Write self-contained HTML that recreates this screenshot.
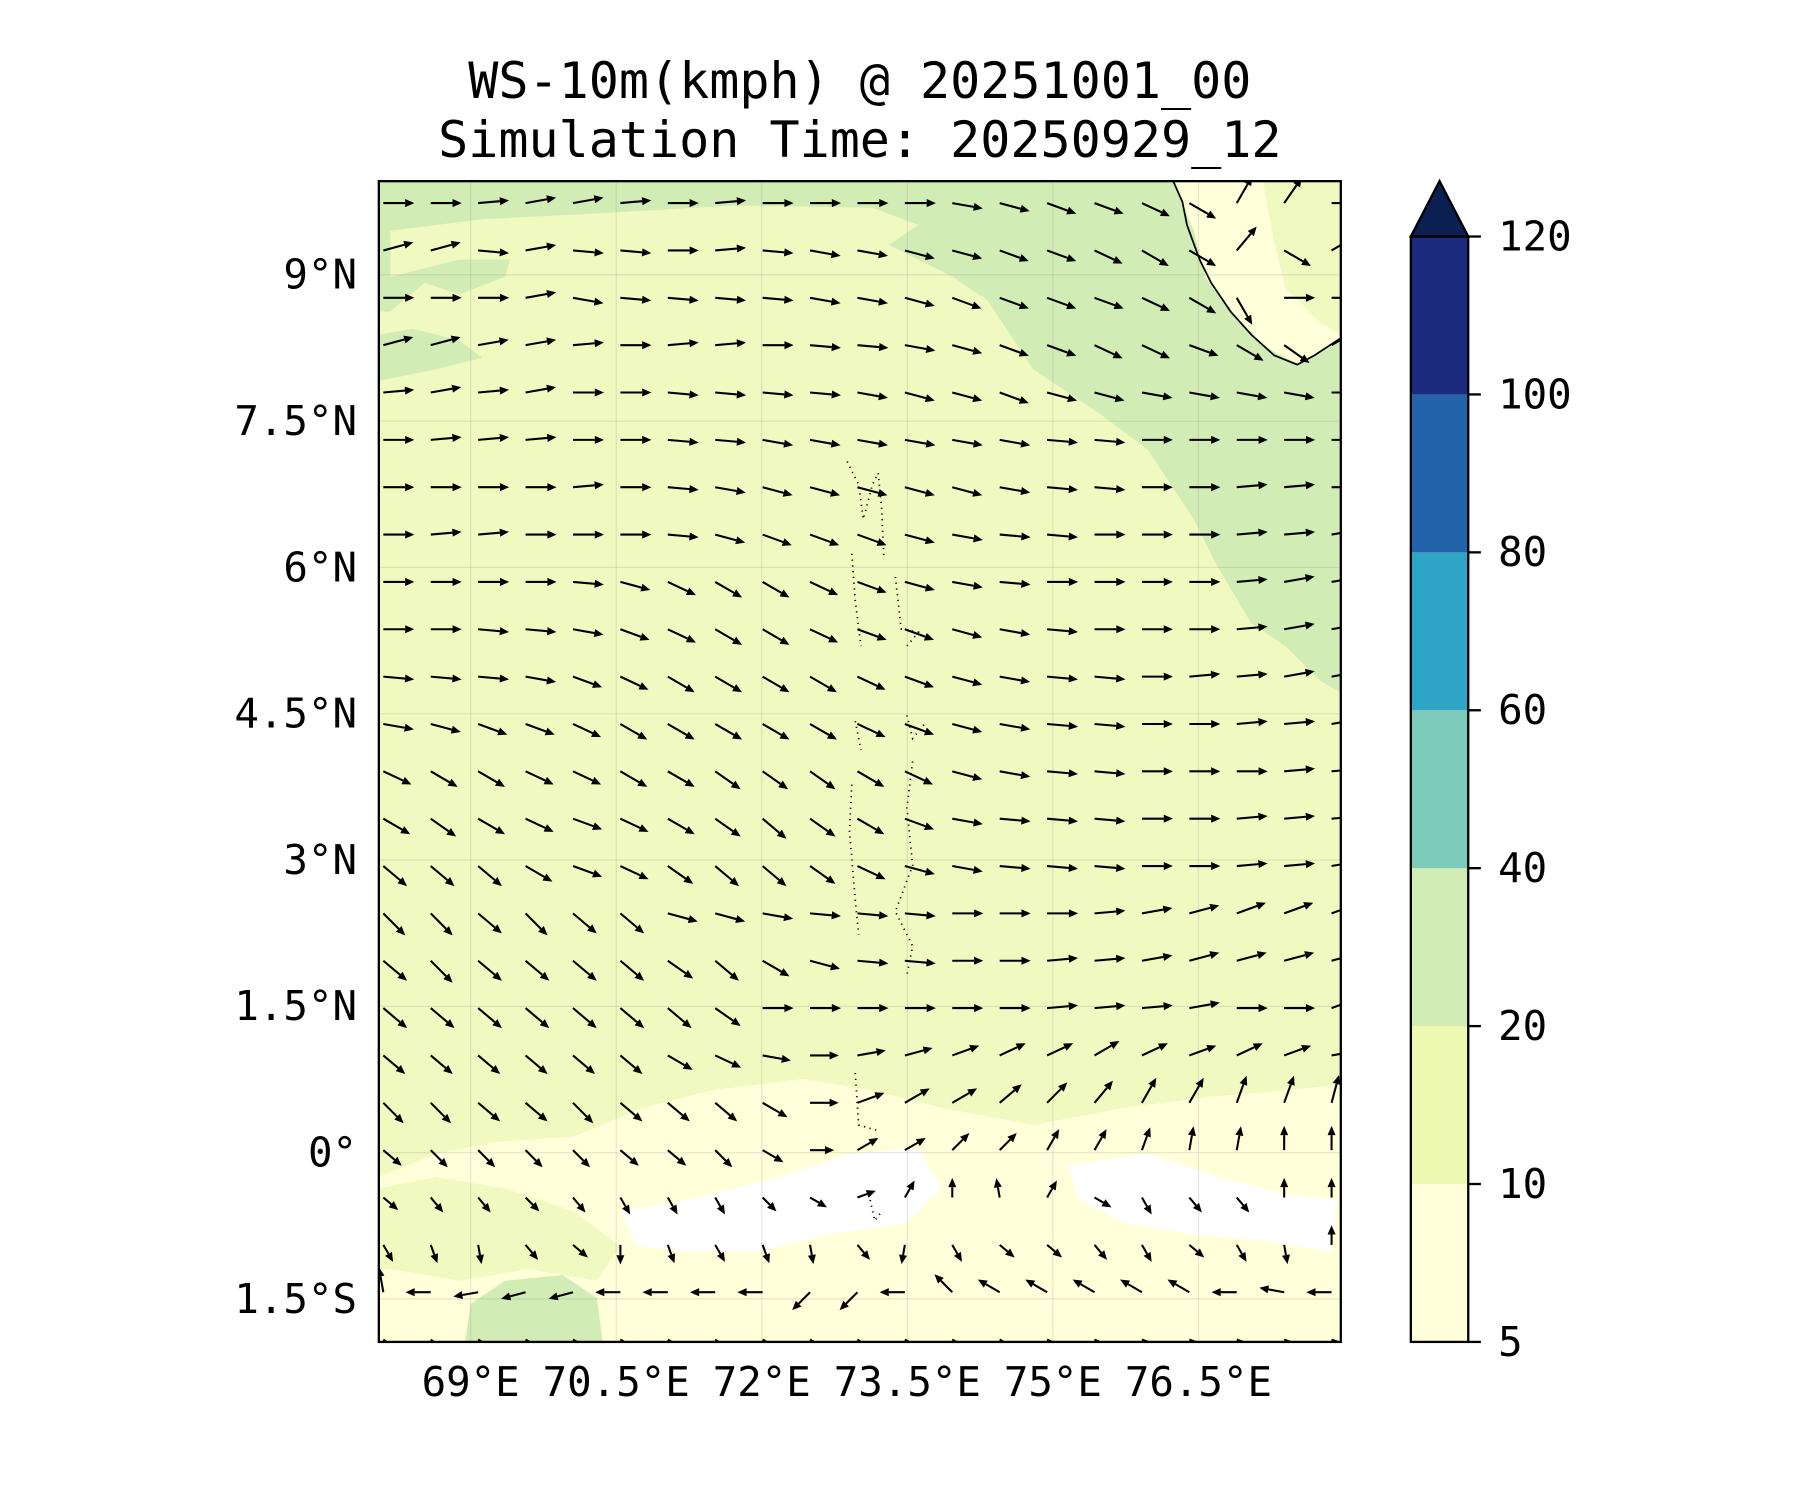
<!DOCTYPE html>
<html><head><meta charset="utf-8"><style>
html,body{margin:0;padding:0;background:#fff;}
svg{display:block;}
text{font-family:"DejaVu Sans Mono","Liberation Mono",monospace;fill:#000;}
</style></head><body>
<svg id="chart" width="1800" height="1500" viewBox="0 0 1568 1300" preserveAspectRatio="none" xmlns="http://www.w3.org/2000/svg">
<defs><clipPath id="clip"><rect x="330" y="157" width="838" height="1006"/></clipPath></defs>
<text x="749" y="85" font-size="43.6" text-anchor="middle">WS-10m(kmph) @ 20251001_00</text>
<text x="749" y="136" font-size="43.6" text-anchor="middle">Simulation Time: 20250929_12</text>
<g clip-path="url(#clip)">
<rect x="330" y="157" width="838" height="1006" fill="#f0f9bf"/>
<path fill="#d1ecb4" d="M330 157 L1168 157 L1168 600 L1150 590 L1120 560 L1090 540 L1060 490 L1040 450 L1020 420 L1000 390 L960 360 L930 340 L900 320 L880 290 L860 260 L830 240 L800 225 L760 205 L700 195 L640 192 L560 195 L500 190 L450 205 L440 240 L400 255 L370 245 L340 270 L330 270 Z"/>
<path fill="#f0f9bf" d="M340 200 L420 190 L520 185 L640 178 L760 180 L800 195 L770 215 L700 205 L620 205 L540 215 L450 225 L400 225 L340 240 Z"/>
<path fill="#d1ecb4" d="M330 290 L360 285 L400 295 L420 310 L380 320 L330 330 Z"/>
<path fill="#ffffd9" d="M330 1020 L380 1000 L430 990 L500 985 L560 960 L620 945 L700 935 L760 945 L820 960 L900 975 L980 960 L1060 950 L1120 945 L1168 940 L1168 1163 L330 1163 Z"/>
<path fill="#f0f9bf" d="M330 1030 L380 1020 L440 1030 L500 1050 L540 1080 L520 1110 L460 1100 L400 1110 L340 1100 L330 1100 Z"/>
<path fill="#ffffff" d="M540 1050 L600 1040 L680 1020 L740 1000 L800 995 L820 1030 L790 1060 L720 1070 L660 1085 L600 1085 L555 1080 Z"/>
<path fill="#ffffff" d="M930 1010 L1000 1000 L1060 1020 L1120 1035 L1165 1040 L1160 1085 L1100 1075 L1040 1070 L980 1060 L940 1040 Z"/>
<path fill="#d1ecb4" d="M405 1163 L410 1130 L440 1110 L490 1105 L520 1125 L525 1163 Z"/>
<path fill="#ffffd9" d="M1022 157 L1040 200 L1050 240 L1075 275 L1100 300 L1130 315 L1150 305 L1168 292 L1168 157 Z"/>
<path fill="#f0f9bf" d="M1100 157 L1168 157 L1168 290 L1150 280 L1120 250 L1110 210 Z"/>
<path fill="none" stroke="#000" stroke-width="1.5" d="M1022 157 L1030 175 L1034 195 L1045 225 L1055 245 L1072 270 L1090 290 L1110 308 L1130 316 L1145 308 L1168 293"/>
<g fill="none" stroke="#000" stroke-width="1.5" stroke-dasharray="1 4">
<path d="M738 400 L748 420 L752 450 L760 420 L765 410 L768 440 L770 485"/>
<path d="M742 480 L745 520 L750 560"/>
<path d="M780 500 L785 545 L800 548 L790 560"/>
<path d="M745 625 L750 650 M790 620 L795 640 L805 628"/>
<path d="M742 680 L740 720 L745 780 L748 810"/>
<path d="M795 660 L790 700 L795 750 L780 790 L795 820 L790 845"/>
<path d="M745 930 L748 975 L765 980"/>
<path d="M758 1040 L762 1058 L768 1050"/>
</g>
<g id="grid" stroke="#999" stroke-opacity="0.25" stroke-width="1"></g>
<g id="arrows"></g>
</g>
<rect x="330" y="157" width="838" height="1006" fill="none" stroke="#000" stroke-width="2"/>
<g id="axes"></g>
<g id="cbar"></g>
</svg>
<script>
const xTicks=[69,70.5,72,73.5,75,76.5];
const xTickLabels=["69°E","70.5°E","72°E","73.5°E","75°E","76.5°E"];
const yTicks=[9,7.5,6,4.5,3,1.5,0,-1.5];
const yTickLabels=["9°N","7.5°N","6°N","4.5°N","3°N","1.5°N","0°","1.5°S"];
const cbLevels=[5,10,20,40,60,80,100,120];
const cbColors=["#ffffd9","#edf8b1","#d1ecb4","#7dcbbb","#2ea5c6","#2263a9","#1b2a7c"];
const cbExtendColor="#0b1f52";
const gridLon0=68.1, gridLat0=9.736, gridLonStep=0.4886, gridLatStep=0.4855;
const rowLen=[27,27,27,27,27,27,27,27,27,27,27,27,27,27,27,27,27,27,25,25,21,17,17,22,25];
const windAngles=[
[0,0,-5,-10,-10,-5,0,-5,0,0,0,0,10,15,20,20,25,30,-60,-55,0],
[-15,-15,5,-10,5,5,0,-5,5,10,10,15,15,20,20,25,30,30,-50,30,-30],
[0,0,0,-10,10,5,5,5,5,10,10,15,20,20,20,20,25,30,60,0,0],
[-15,-15,-10,-10,-5,0,-5,-5,0,5,5,10,15,20,20,25,25,20,30,35,-30],
[-5,-10,-5,-10,0,0,5,5,5,5,10,15,15,20,15,15,10,10,10,10,0],
[0,-5,-5,-5,0,0,5,5,10,10,10,10,10,10,5,5,0,0,0,0,0],
[0,0,0,0,-5,0,5,10,15,15,15,15,15,10,5,5,0,0,-5,-5,0],
[0,-5,-5,0,0,0,5,15,20,20,20,15,10,5,5,0,0,0,-5,-5,-10],
[0,0,0,0,5,15,25,30,30,25,20,15,10,5,0,0,0,0,-5,-10,-10],
[0,0,5,5,10,20,25,30,30,25,20,20,15,10,5,0,0,0,-5,-10,-10],
[5,5,5,10,20,25,30,30,30,30,25,20,15,10,5,5,0,-5,-5,-10,-10],
[10,15,20,20,25,30,30,30,30,30,25,20,15,10,5,5,0,0,-5,-5,-10],
[25,30,30,25,25,30,30,35,35,35,30,25,15,10,5,5,0,0,0,-5,-5],
[30,35,30,25,20,25,30,35,40,35,30,20,10,5,5,5,0,0,-5,-5,-5],
[40,40,40,30,20,25,35,40,40,35,25,15,10,5,5,5,0,0,-5,-5,-10],
[45,45,40,45,40,40,15,15,10,5,5,5,0,0,0,-5,-10,-15,-20,-20,-20],
[40,45,40,40,40,40,35,40,30,15,5,5,0,0,-5,-5,-10,-15,-15,-15,-15],
[40,40,40,40,40,40,40,35,0,0,0,0,0,0,-5,-5,-5,-10,0,0,-20],
[40,40,40,40,40,40,30,25,10,0,-10,-15,-20,-25,-25,-30,-25,-20,-25,-20,-10],
[45,45,40,40,45,40,40,40,30,0,-20,-30,-30,-40,-45,-50,-60,-60,-70,-70,-75],
[40,45,45,45,45,40,40,45,30,0,-30,-30,-45,-45,-60,-60,-70,-80,-80,-90,-90],
[40,50,50,45,50,60,60,60,45,30,-20,-60,-90,-100,-60,30,60,50,50,-90,-90],
[60,70,80,50,40,90,70,60,70,80,50,100,60,40,40,50,60,40,60,80,-90],
[-100,180,170,165,165,180,180,180,180,135,135,180,-135,-150,-150,-150,-150,-150,180,-170,180],
[35,35,30,30,30,30,30,35,30,30,35,30,30,30,25,25,20,20,20,20,20]
];
const NS="http://www.w3.org/2000/svg";
function xScale(lon){return 410+(lon-69)*84.53;}
function yScale(lat){return 999-lat*84.53;}
function cbScale(i){return 1163-i*136.86;}
function mk(tag,attrs,parent){const e=document.createElementNS(NS,tag);for(const k in attrs)e.setAttribute(k,attrs[k]);parent.appendChild(e);return e;}
const grid=document.getElementById('grid'),axes=document.getElementById('axes'),arrows=document.getElementById('arrows'),cbar=document.getElementById('cbar');
xTicks.forEach((t,i)=>{
  const l=mk('line',{x1:xScale(t),x2:xScale(t),y1:157,y2:1163},grid);
  
  
  const tx=mk('text',{x:xScale(t),y:1210,'font-size':35.5,'text-anchor':'middle'},axes);
  tx.textContent=xTickLabels[i];
  
  
});
yTicks.forEach((t,i)=>{
  const l=mk('line',{x1:330,x2:1168,y1:yScale(t),y2:yScale(t)},grid);
  
  
  const tx=mk('text',{x:311,y:yScale(t)+12,'font-size':35.5,'text-anchor':'end'},axes);
  tx.textContent=yTickLabels[i];
  
  
});
windAngles.forEach((row,r)=>{
  const lat=gridLat0-r*gridLatStep;
  row.forEach((a,c)=>{
    const lon=gridLon0+c*gridLonStep;
    const x=xScale(lon),y=yScale(lat),L=rowLen[r];
    const rad=a*Math.PI/180,cs=Math.cos(rad),sn=Math.sin(rad);
    const ex=x+L*cs,ey=y+L*sn,hb=8,hw=3.5;
    const bx=ex-hb*cs,by=ey-hb*sn;
    const g=mk('g',{},arrows);
    
    
    mk('line',{x1:x,y1:y,x2:bx,y2:by,stroke:'#000','stroke-width':1.8},g);
    mk('polygon',{points:`${ex},${ey} ${bx-hw*sn},${by+hw*cs} ${bx+hw*sn},${by-hw*cs}`,fill:'#000'},g);
  });
});
cbColors.forEach((col,i)=>{
  const r=mk('rect',{x:1229,y:cbScale(i+1),width:50,height:cbScale(i)-cbScale(i+1),fill:col},cbar);
  
  
});
const tri=mk('polygon',{points:`1229,${cbScale(7)} 1279,${cbScale(7)} 1254,157`,fill:cbExtendColor,stroke:'#000','stroke-width':2},cbar);


const frame=mk('rect',{x:1229,y:cbScale(7),width:50,height:cbScale(0)-cbScale(7),fill:'none',stroke:'#000','stroke-width':2},cbar);


cbLevels.forEach((v,i)=>{
  mk('line',{x1:1279,x2:1290,y1:cbScale(i),y2:cbScale(i),stroke:'#000','stroke-width':2},cbar);
  const t=mk('text',{x:1305,y:cbScale(i)+12,'font-size':35.5},cbar);
  t.textContent=v;
  
  
});
</script>
</body></html>
